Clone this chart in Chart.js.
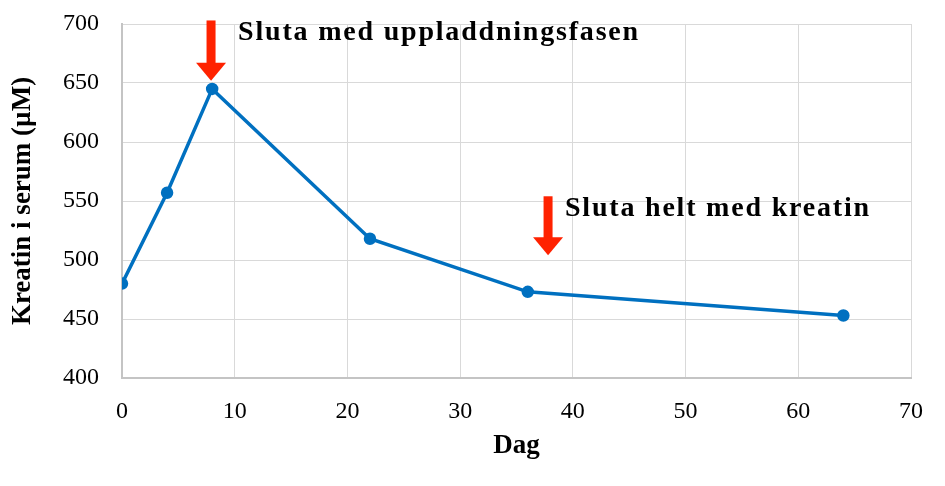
<!DOCTYPE html>
<html>
<head>
<meta charset="utf-8">
<script src="https://cdn.jsdelivr.net/npm/chart.js@4.4.1/dist/chart.umd.min.js"></script>
<style>
    html, body { margin: 0; padding: 0; background: #ffffff; }
    #wrap { width: 945px; height: 486px; }
</style>
</head>
<body>
<div id="wrap"><canvas id="creatineChart" width="945" height="486"></canvas></div>
<script>
    // Values
    const days = [0, 4, 8, 22, 36, 64];
    const serumCreatine = [480, 557, 645, 518, 473, 453];
    const xTicks = [0, 10, 20, 30, 40, 50, 60, 70];
    const yTicks = [400, 450, 500, 550, 600, 650, 700];

    // Red arrows (data coordinates: day, top value, tip value)
    const arrowDays = [7.9, 37.8];
    const arrowTops = [703, 554];
    const arrowTips = [652, 504];

    // Annotation texts and where they start (day, baseline value)
    const noteTexts = ['Sluta med uppladdningsfasen', 'Sluta helt med kreatin'];
    const noteDays = [10.3, 39.3];
    const noteValues = [686.5, 537.5];

    const serif = "'Liberation Serif', 'Times New Roman', serif";

    const arrowPlugin = {
        id: 'arrowNotes',
        afterDatasetsDraw(chart) {
            const { ctx, scales: { x, y } } = chart;
            ctx.save();
            ctx.fillStyle = '#ff2200';
            arrowDays.forEach((d, i) => {
                const cx = x.getPixelForValue(d);
                const top = y.getPixelForValue(arrowTops[i]);
                const tip = y.getPixelForValue(arrowTips[i]);
                const headH = 18;
                ctx.fillRect(cx - 4.5, top, 9, tip - top - headH + 1);
                ctx.beginPath();
                ctx.moveTo(cx - 15, tip - headH);
                ctx.lineTo(cx + 15, tip - headH);
                ctx.lineTo(cx, tip);
                ctx.closePath();
                ctx.fill();
            });
            ctx.fillStyle = '#000000';
            ctx.font = 'bold 28px ' + serif;
            ctx.letterSpacing = '1.8px';
            ctx.textBaseline = 'alphabetic';
            ctx.textAlign = 'left';
            noteTexts.forEach((t, i) => {
                ctx.fillText(t, x.getPixelForValue(noteDays[i]), y.getPixelForValue(noteValues[i]));
            });
            ctx.restore();
        }
    };

    new Chart(document.getElementById('creatineChart'), {
        type: 'line',
        data: {
            datasets: [{
                data: days.map((d, i) => ({ x: d, y: serumCreatine[i] })),
                borderColor: '#0070c0',
                backgroundColor: '#0070c0',
                borderWidth: 3.5,
                pointRadius: 4.5,
                pointHoverRadius: 4.5,
                tension: 0
            }]
        },
        options: {
            responsive: false,
            animation: false,
            layout: { padding: { left: 0, right: 34, top: 0, bottom: 24 } },
            plugins: {
                legend: { display: false },
                tooltip: { enabled: false }
            },
            scales: {
                x: {
                    type: 'linear',
                    min: xTicks[0],
                    max: xTicks[xTicks.length - 1],
                    afterBuildTicks: (scale) => { scale.ticks = xTicks.map(v => ({ value: v })); },
                    afterFit: (scale) => { scale.height = 84; },
                    grid: { color: '#d9d9d9', lineWidth: 1, drawTicks: false },
                    border: { color: '#c4c4c4', width: 2 },
                    ticks: { padding: 19, color: '#000', font: { family: serif, size: 24 } },
                    title: {
                        display: true, text: 'Dag', color: '#000',
                        font: { family: serif, size: 27, weight: 'bold' },
                        padding: { top: 0, bottom: 0 }
                    }
                },
                y: {
                    min: yTicks[0],
                    max: yTicks[yTicks.length - 1],
                    afterBuildTicks: (scale) => { scale.ticks = yTicks.map(v => ({ value: v })); },
                    afterFit: (scale) => { scale.width = 122; scale.paddingTop = 24; },
                    grid: { color: '#d9d9d9', lineWidth: 1, drawTicks: false },
                    border: { color: '#c4c4c4', width: 2 },
                    ticks: { padding: 23, color: '#000', font: { family: serif, size: 24 } },
                    title: {
                        display: true, text: 'Kreatin i serum (µM)', color: '#000',
                        font: { family: serif, size: 27, weight: 'bold' },
                        padding: { top: 7, bottom: 0 }
                    }
                }
            }
        },
        plugins: [arrowPlugin]
    });
</script>
</body>
</html>
